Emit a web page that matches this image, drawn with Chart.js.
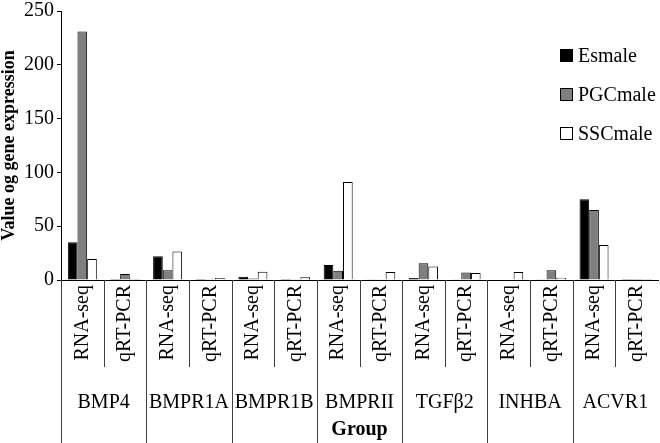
<!DOCTYPE html>
<html>
<head>
<meta charset="utf-8">
<script src="https://cdn.jsdelivr.net/npm/chart.js@4.4.0/dist/chart.umd.min.js"></script>
<style>
  body { margin: 0; background: #fff; }
</style>
</head>
<body>
<canvas id="grafico" width="660" height="443"></canvas>
<script>
// Datos
const genes = ['BMP4', 'BMPR1A', 'BMPR1B', 'BMPRII', 'TGFβ2', 'INHBA', 'ACVR1'];
const metodos = ['RNA-seq', 'qRT-PCR'];
const esmale = [35, 1, 22, 1, 3, 1, 14, 0.8, 1.8, 0.8, 0, 0.8, 75, 1];
const pgcmale = [231, 5.5, 9, 0.3, 1.5, 0.3, 8.5, 0.8, 15.6, 7, 0, 9, 65, 1];
const sscmale = [19.5, 1, 26.5, 1.8, 7.7, 2.5, 91, 7.4, 12.5, 6.4, 7.4, 2.1, 32.5, 1];
const yTicks = [0, 50, 100, 150, 200, 250];

const fuente = "'Liberation Serif', 'Times New Roman', serif";
const etiquetas = [];
genes.forEach(g => metodos.forEach(m => etiquetas.push(m)));

// Etiquetas de grupo, separadores y leyenda
const grupos = {
    id: 'grupos',
    afterDraw(chart) {
        const ctx = chart.ctx;
        const x = chart.scales.x;
        const area = chart.chartArea;
        const base = area.bottom;
        const paso = x.getPixelForValue(1) - x.getPixelForValue(0);
        ctx.save();
        ctx.fillStyle = '#000';
        ctx.font = '20px ' + fuente;

        // Etiquetas verticales de método
        etiquetas.forEach((m, i) => {
            ctx.save();
            ctx.translate(x.getPixelForValue(i), base + 5);
            ctx.rotate(-Math.PI / 2);
            ctx.textAlign = 'right';
            ctx.textBaseline = 'middle';
            ctx.fillText(m, 0, 0);
            ctx.restore();
        });

        ctx.strokeStyle = '#404040';
        ctx.lineWidth = 1;
        genes.forEach((g, k) => {
            const izq = x.getPixelForValue(2 * k) - paso / 2;
            const medio = izq + paso;
            // separador entre genes
            ctx.beginPath();
            ctx.moveTo(Math.round(izq) + 0.5, base);
            ctx.lineTo(Math.round(izq) + 0.5, 443);
            ctx.stroke();
            // separador entre métodos
            ctx.beginPath();
            ctx.moveTo(Math.round(medio) + 0.5, base);
            ctx.lineTo(Math.round(medio) + 0.5, base + 87);
            ctx.stroke();
            ctx.textAlign = 'center';
            ctx.textBaseline = 'middle';
            ctx.fillText(g, medio, base + 123);
        });

        ctx.font = 'bold 20px ' + fuente;
        ctx.textAlign = 'center';
        ctx.fillText('Group', (area.left + area.right) / 2, 430);

        // Leyenda
        chart.data.datasets.forEach((d, j) => {
            const y = 49 + 39 * j;
            ctx.fillStyle = d.backgroundColor;
            ctx.fillRect(560, y, 13, 13);
            ctx.strokeStyle = '#000';
            ctx.strokeRect(560.5, y + 0.5, 12, 12);
            ctx.fillStyle = '#000';
            ctx.font = '20px ' + fuente;
            ctx.textAlign = 'left';
            ctx.fillText(d.label, 578, y + 8);
        });
        ctx.restore();
    }
};

function dibujar() {
    new Chart(document.getElementById('grafico').getContext('2d'), {
        type: 'bar',
        data: {
            labels: etiquetas,
            datasets: [
                { label: 'Esmale', data: esmale, backgroundColor: '#000000', borderColor: '#000', borderWidth: 1 },
                { label: 'PGCmale', data: pgcmale, backgroundColor: '#7f7f7f', borderColor: '#000', borderWidth: 1 },
                { label: 'SSCmale', data: sscmale, backgroundColor: '#ffffff', borderColor: '#000', borderWidth: 1 }
            ]
        },
        options: {
            responsive: false,
            animation: false,
            layout: { padding: { left: 0, right: 2, top: 0, bottom: 0 } },
            datasets: { bar: { categoryPercentage: 0.68, barPercentage: 1 } },
            plugins: {
                legend: { display: false },
                tooltip: { enabled: false }
            },
            scales: {
                x: {
                    grid: { display: false },
                    border: { display: true, color: '#000', width: 1 },
                    ticks: { display: false },
                    afterFit(scale) { scale.height = 163; }
                },
                y: {
                    min: 0,
                    max: 250,
                    afterBuildTicks(scale) { scale.ticks = yTicks.map(v => ({ value: v })); },
                    grid: { display: true, drawOnChartArea: false, drawTicks: true, tickLength: 4, color: '#000' },
                    border: { display: true, color: '#000', width: 1 },
                    ticks: { color: '#000', padding: 3, font: { family: fuente, size: 20, lineHeight: 0.8 } },
                    title: {
                        display: true,
                        text: 'Value og gene expression',
                        color: '#000',
                        padding: 0,
                        font: { family: fuente, size: 18, weight: 'bold', lineHeight: 1 }
                    },
                    afterFit(scale) { scale.width = 61; }
                }
            }
        },
        plugins: [grupos]
    });
}

// Cargar la fuente antes de dibujar
Promise.all([
    document.fonts.load("20px 'Liberation Serif'"),
    document.fonts.load("bold 20px 'Liberation Serif'")
]).then(dibujar, dibujar);
</script>
</body>
</html>
